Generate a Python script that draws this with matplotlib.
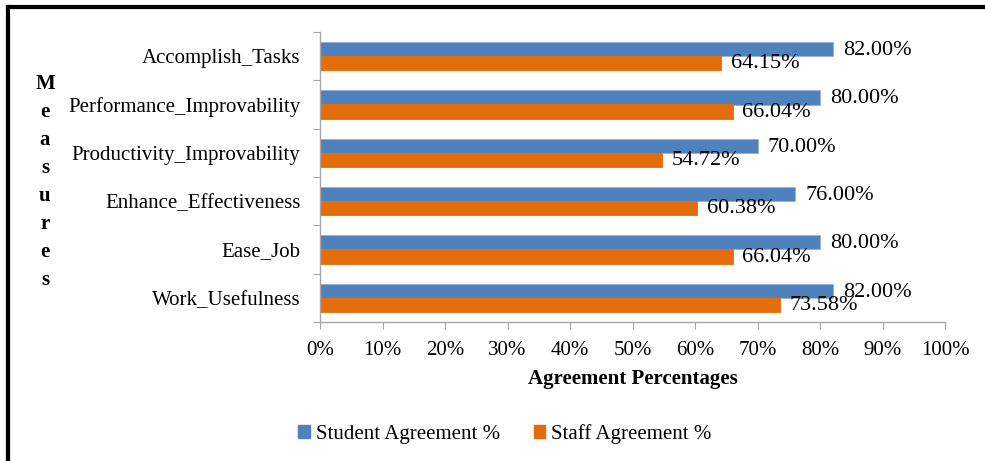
import matplotlib
matplotlib.use("Agg")
import matplotlib.pyplot as plt
import numpy as np
from matplotlib.patches import Patch

plt.rcParams["font.family"] = ["Liberation Serif", "DejaVu Serif"]

# Data (bottom to top as drawn)
measures = [
    "Work_Usefulness",
    "Ease_Job",
    "Enhance_Effectiveness",
    "Productivity_Improvability",
    "Performance_Improvability",
    "Accomplish_Tasks",
]
student_pct = [82.00, 80.00, 76.00, 70.00, 80.00, 82.00]
staff_pct = [73.58, 66.04, 60.38, 54.72, 66.04, 64.15]

blue = "#4f81bd"
orange = "#e46c0a"
axis_grey = "#a6a6a6"

fig = plt.figure(figsize=(9.85, 4.61), dpi=100)
ax = fig.add_axes([320 / 985, 1 - 322 / 461, 625 / 985, 290 / 461])

y = np.arange(len(measures))
h = 0.29
ax.barh(y + h / 2, np.array(student_pct) / 100, height=h, color=blue,
        edgecolor="#95b3d7", linewidth=0.6, label="Student Agreement %")
ax.barh(y - h / 2, np.array(staff_pct) / 100, height=h, color=orange,
        edgecolor="#e46c0a", linewidth=0.6, label="Staff Agreement %")

# Data labels
for i in range(len(measures)):
    ax.annotate(f"{student_pct[i]:.2f}%", (student_pct[i] / 100, y[i] + h / 2),
                xytext=(7.5, -1), textcoords="offset points", va="center",
                ha="left", fontsize=16)
    ax.annotate(f"{staff_pct[i]:.2f}%", (staff_pct[i] / 100, y[i] - h / 2),
                xytext=(7, -0.5), textcoords="offset points", va="center",
                ha="left", fontsize=16)

ax.set_xlim(0, 1)
ax.set_ylim(-0.5, len(measures) - 0.5)

ax.set_xticks(np.arange(0, 1.01, 0.1))
ax.set_xticklabels([f"{int(round(v * 100))}%" for v in np.arange(0, 1.01, 0.1)])
ax.tick_params(axis="x", direction="out", length=5, color=axis_grey,
               labelsize=15, pad=9)

ax.set_yticks(np.arange(-0.5, len(measures), 1.0))
ax.set_yticklabels([])
ax.set_yticks(y, minor=True)
ax.set_yticklabels(measures, minor=True)
ax.tick_params(axis="y", which="major", direction="out", length=5, color=axis_grey)
ax.tick_params(axis="y", which="minor", length=0, labelsize=15, pad=14)

for s in ["top", "right"]:
    ax.spines[s].set_visible(False)
for s in ["left", "bottom"]:
    ax.spines[s].set_color(axis_grey)
    ax.spines[s].set_linewidth(1.0)

ax.set_xlabel("Agreement Percentages", fontsize=15, fontweight="bold", labelpad=6)

fig.text(45 / 985, 1 - 182 / 461, "M\ne\na\ns\nu\nr\ne\ns", ha="center",
         va="center", fontsize=15, fontweight="bold", linespacing=1.53)

handles = [Patch(facecolor=blue, edgecolor=blue),
           Patch(facecolor=orange, edgecolor=orange)]
fig.legend(handles, ["Student Agreement %", "Staff Agreement %"],
           loc="center", bbox_to_anchor=(505 / 985, 1 - 434 / 461), ncol=2,
           frameon=False, fontsize=15, handlelength=0.55, handleheight=0.55,
           handletextpad=0.3, columnspacing=1.6)

# Outer border
fig.add_artist(plt.Line2D([8 / 985, 8 / 985], [0, 1 - 7 / 461],
                          transform=fig.transFigure, color="black", linewidth=3))
fig.add_artist(plt.Line2D([8 / 985, 1], [1 - 7 / 461, 1 - 7 / 461],
                          transform=fig.transFigure, color="black", linewidth=3))

fig.savefig("out.png", dpi=100)
